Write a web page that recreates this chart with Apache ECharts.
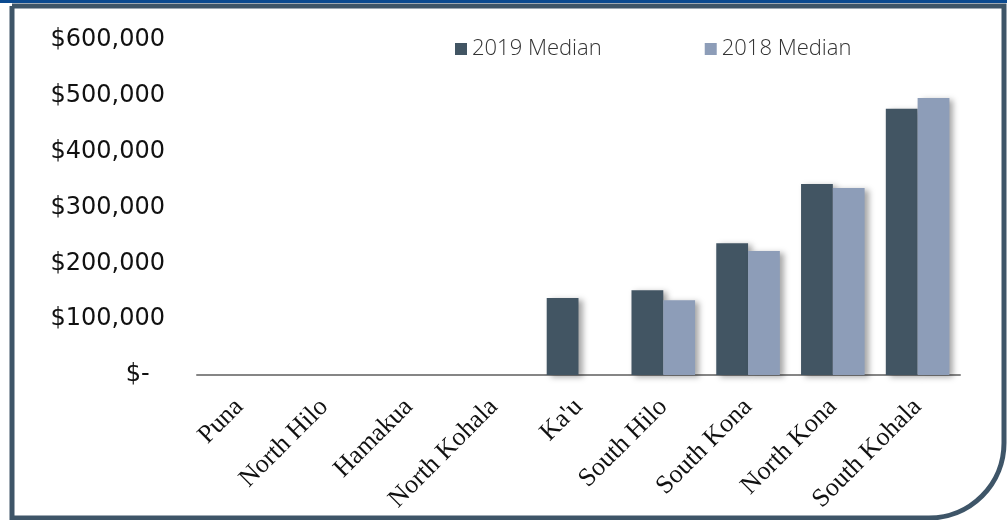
<!DOCTYPE html>
<html>
<head>
<meta charset="utf-8">
<script src="https://cdn.jsdelivr.net/npm/echarts@6/dist/echarts.min.js"></script>
<style>html,body{margin:0;padding:0;background:#fff;}#chart{width:1007px;height:520px;}</style>
</head>
<body>
<div id="chart"></div>
<script>
const categories = ["Puna", "North Hilo", "Hamakua", "North Kohala", "Ka'u", "South Hilo", "South Kona", "North Kona", "South Kohala"];
const median2019 = [null, null, null, null, 138000, 152000, 236000, 342000, 477000];
const median2018 = [null, null, null, null, null, 134000, 222000, 335000, 496000];
const yTicks = [0, 100000, 200000, 300000, 400000, 500000, 600000];

const chart = echarts.init(document.getElementById('chart'), null, {renderer: 'canvas'});
const shadow = {shadowColor: 'rgba(0,0,0,0.35)', shadowBlur: 6, shadowOffsetX: 4, shadowOffsetY: 2};
chart.setOption({
  animation: false,
  backgroundColor: '#fff',
  legend: {
    left: 450, top: 33,
    itemWidth: 12, itemHeight: 12, itemGap: 103,
    icon: 'rect',
    textStyle: {fontFamily: 'Open Sans', fontWeight: 300, fontSize: 22, color: '#333'},
    data: ['2019 Median', '2018 Median']
  },
  grid: {left: 197, right: 47, top: 40, bottom: 145, outerBoundsMode: 'none'},
  xAxis: {
    type: 'category',
    data: categories,
    axisLine: {lineStyle: {color: '#868686', width: 2}},
    axisTick: {show: false},
    axisLabel: {
      rotate: 45, margin: 28, interval: 0, hideOverlap: false,
      fontFamily: 'Liberation Serif', fontSize: 26, color: '#111'
    }
  },
  yAxis: {
    type: 'value', min: yTicks[0], max: yTicks[yTicks.length-1], interval: 100000,
    splitLine: {show: false},
    axisLine: {show: false}, axisTick: {show: false},
    axisLabel: {
      margin: 32, fontFamily: '"DejaVu Sans", sans-serif', fontSize: 24, color: '#111',
      formatter: v => v === 0 ? '$-  ' : '$' + v.toLocaleString('en-US')
    }
  },
  series: [
    {name: '2019 Median', type: 'bar', data: median2019, barGap: '0%', barCategoryGap: '25%',
     itemStyle: Object.assign({color: '#425563'}, shadow)},
    {name: '2018 Median', type: 'bar', data: median2018,
     itemStyle: Object.assign({color: '#8D9DB8'}, shadow)}
  ],
  graphic: [
    {type: 'rect', silent: true, z: 100, shape: {x: 12, y: 6, width: 992, height: 512, r: [0, 0, 75, 0]},
     style: {fill: null, stroke: '#3E5568', lineWidth: 5}},
    {type: 'rect', silent: true, z: 101, shape: {x: 0, y: 0, width: 1007, height: 3}, style: {fill: '#0B4A90'}}
  ]
});
</script>
</body>
</html>
